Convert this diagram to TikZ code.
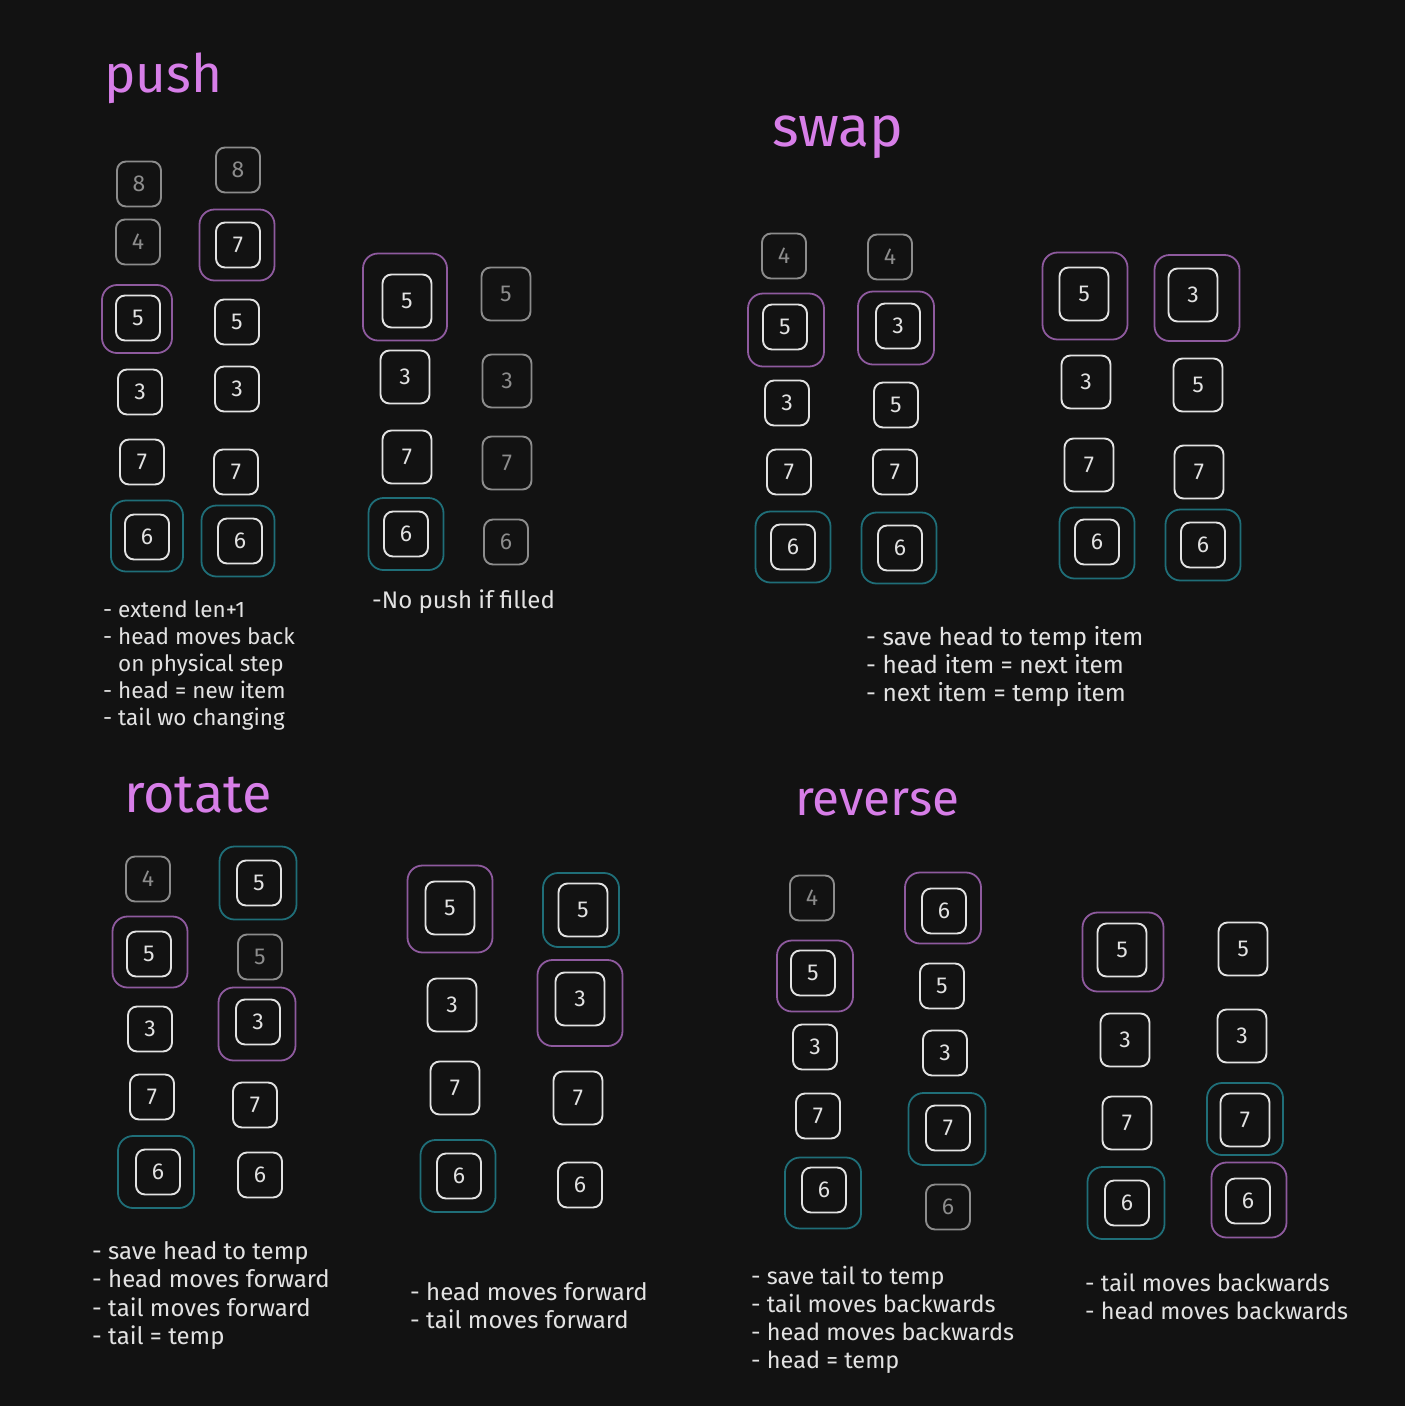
\documentclass[tikz,border=0pt]{standalone}
\usepackage{fontspec}
\setmainfont{Fira Sans}
\definecolor{bg}{HTML}{121212}
\definecolor{fg}{HTML}{E2E2E2}
\definecolor{gr}{HTML}{8C8C8C}
\definecolor{hdc}{HTML}{8E5A9E}
\definecolor{tlc}{HTML}{1F6E78}
\definecolor{ttl}{HTML}{D77EE8}
\tikzset{
  itm/.style={draw=fg, text=fg, line width=1.9, rounded corners=9, minimum width=44, minimum height=45, inner sep=0, font=\fontsize{23}{23}\selectfont},
  big/.style={minimum width=49, minimum height=53},
  old/.style={draw=gr, text=gr},
  hd/.style={draw=hdc, line width=1.8, rounded corners=15, inner sep=0, minimum width=#1},
  tl/.style={draw=tlc, line width=1.8, rounded corners=15, inner sep=0, minimum width=#1},
  title/.style={anchor=base west, inner sep=0, text=ttl, font=\fontsize{#1}{#1}\selectfont},
  note/.style={anchor=base west, inner sep=0, text=fg, font=\fontsize{#1}{27}\selectfont}
}
\begin{document}
\begin{tikzpicture}[x=1pt,y=-1pt]
\fill[bg] (0,0) rectangle (1405,1406);
\useasboundingbox (0,0) rectangle (1405,1406);

% ---------------- push ----------------
\node[title=53] (tpush) at (104,92) {push};
\node[hd=70, minimum height=68] (paH) at (137,319) {};
\node[tl=72, minimum height=71] (paT) at (147,536) {};
\node[itm,old] (pa1) at (139,184) {8};
\node[itm,old] (pa2) at (138,242) {4};
\node[itm] (pa3) at (138,318) {5};
\node[itm] (pa4) at (140,392) {3};
\node[itm] (pa5) at (142,462) {7};
\node[itm] (pa6) at (147,537) {6};

\node[hd=75, minimum height=71] (pbH) at (237,245) {};
\node[tl=73, minimum height=71] (pbT) at (238,541) {};
\node[itm,old] (pb1) at (238,170) {8};
\node[itm] (pb2) at (238,245) {7};
\node[itm] (pb3) at (237,322) {5};
\node[itm] (pb4) at (237,389) {3};
\node[itm] (pb5) at (236,472) {7};
\node[itm] (pb6) at (240,541) {6};

\node[hd=84, minimum height=87] (pcH) at (405,297) {};
\node[tl=75, minimum height=72] (pcT) at (406,534) {};
\node[itm,big] (pc1) at (407,301) {5};
\node[itm,big] (pc2) at (405,377) {3};
\node[itm,big] (pc3) at (407,457) {7};
\node[itm] (pc4) at (406,534) {6};

\node[itm,big,old] (pd1) at (506,294) {5};
\node[itm,big,old] (pd2) at (507,381) {3};
\node[itm,big,old] (pd3) at (507,463) {7};
\node[itm,old] (pd4) at (506,542) {6};

\node[note=22.5] (npush1) at (103,617) {\vtop{\baselineskip=27pt
  \hbox{- extend len+1}
  \hbox{- head moves back}
  \hbox{\phantom{- }on physical step}
  \hbox{- head = new item}
  \hbox{- tail wo changing}}};
\node[note=24] (npush2) at (372,608) {-No push if filled};

% ---------------- swap ----------------
\node[title=57] (tswap) at (772,146) {swap};
\node[hd=76, minimum height=73] (saH) at (786,330) {};
\node[tl=75, minimum height=71] (saT) at (793,547) {};
\node[itm,old] (sa1) at (784,256) {4};
\node[itm] (sa2) at (785,327) {5};
\node[itm] (sa3) at (787,403) {3};
\node[itm] (sa4) at (789,472) {7};
\node[itm] (sa5) at (793,547) {6};

\node[hd=76, minimum height=73] (sbH) at (896,328) {};
\node[tl=75, minimum height=71] (sbT) at (899,548) {};
\node[itm,old] (sb1) at (890,257) {4};
\node[itm] (sb2) at (898,326) {3};
\node[itm] (sb3) at (896,405) {5};
\node[itm] (sb4) at (895,472) {7};
\node[itm] (sb5) at (900,548) {6};

\node[hd=85, minimum height=87] (scH) at (1085,296) {};
\node[tl=75, minimum height=71] (scT) at (1097,543) {};
\node[itm,big] (sc1) at (1084,294) {5};
\node[itm,big] (sc2) at (1086,382) {3};
\node[itm,big] (sc3) at (1089,465) {7};
\node[itm] (sc4) at (1097,542) {6};

\node[hd=85, minimum height=86] (sdH) at (1197,298) {};
\node[tl=75, minimum height=71] (sdT) at (1203,545) {};
\node[itm,big] (sd1) at (1193,295) {3};
\node[itm,big] (sd2) at (1198,385) {5};
\node[itm,big] (sd3) at (1199,472) {7};
\node[itm] (sd4) at (1203,545) {6};

\node[note=24.5] (nswap) at (866,645) {\vtop{\baselineskip=28pt
  \hbox{- save head to temp item}
  \hbox{- head item = next item}
  \hbox{- next item = temp item}}};

% ---------------- rotate ----------------
\node[title=54] (trot) at (124,812) {rotate};
\node[hd=75, minimum height=71] (raH) at (150,952) {};
\node[tl=76, minimum height=72] (raT) at (156,1172) {};
\node[itm,old] (ra1) at (148,879) {4};
\node[itm] (ra2) at (149,954) {5};
\node[itm] (ra3) at (150,1029) {3};
\node[itm] (ra4) at (152,1097) {7};
\node[itm] (ra5) at (158,1172) {6};

\node[tl=77, minimum height=73] (rbT) at (258,883) {};
\node[hd=77, minimum height=73] (rbH) at (257,1024) {};
\node[itm] (rb1) at (259,883) {5};
\node[itm,old] (rb2) at (260,957) {5};
\node[itm] (rb3) at (258,1022) {3};
\node[itm] (rb4) at (255,1105) {7};
\node[itm] (rb5) at (260,1175) {6};

\node[hd=85, minimum height=87] (rcH) at (450,909) {};
\node[tl=75, minimum height=72] (rcT) at (458,1176) {};
\node[itm,big] (rc1) at (450,908) {5};
\node[itm,big] (rc2) at (452,1005) {3};
\node[itm,big] (rc3) at (455,1088) {7};
\node[itm] (rc4) at (459,1176) {6};

\node[tl=76, minimum height=74] (rdT) at (581,910) {};
\node[hd=85, minimum height=86] (rdH) at (580,1003) {};
\node[itm,big] (rd1) at (583,910) {5};
\node[itm,big] (rd2) at (580,999) {3};
\node[itm,big] (rd3) at (578,1098) {7};
\node[itm] (rd4) at (580,1185) {6};

\node[note=24] (nrot1) at (92,1259) {\vtop{\baselineskip=28.5pt
  \hbox{- save head to temp}
  \hbox{- head moves forward}
  \hbox{- tail moves forward}
  \hbox{- tail = temp}}};
\node[note=24] (nrot2) at (410,1300) {\vtop{\baselineskip=28pt
  \hbox{- head moves forward}
  \hbox{- tail moves forward}}};

% ---------------- reverse ----------------
\node[title=49.5] (trev) at (795,815) {reverse};
\node[hd=76, minimum height=71] (vaH) at (815,976) {};
\node[tl=76, minimum height=71] (vaT) at (823,1193) {};
\node[itm,old] (va1) at (812,898) {4};
\node[itm] (va2) at (813,973) {5};
\node[itm] (va3) at (815,1047) {3};
\node[itm] (va4) at (818,1116) {7};
\node[itm] (va5) at (824,1190) {6};

\node[hd=76, minimum height=71] (vbH) at (943,908) {};
\node[tl=77, minimum height=72] (vbT) at (947,1129) {};
\node[itm] (vb1) at (944,911) {6};
\node[itm] (vb2) at (942,986) {5};
\node[itm] (vb3) at (945,1053) {3};
\node[itm] (vb4) at (948,1128) {7};
\node[itm,old] (vb5) at (948,1207) {6};

\node[hd=81, minimum height=79] (vcH) at (1123,952) {};
\node[tl=77, minimum height=72] (vcT) at (1126,1203) {};
\node[itm,big] (vc1) at (1122,950) {5};
\node[itm,big] (vc2) at (1125,1040) {3};
\node[itm,big] (vc3) at (1127,1123) {7};
\node[itm] (vc4) at (1127,1203) {6};

\node[tl=76, minimum height=72] (vdT) at (1245,1119) {};
\node[hd=75, minimum height=75] (vdH) at (1249,1200) {};
\node[itm,big] (vd1) at (1243,949) {5};
\node[itm,big] (vd2) at (1242,1036) {3};
\node[itm,big] (vd3) at (1245,1120) {7};
\node[itm] (vd4) at (1248,1201) {6};

\node[note=23.5] (nrev1) at (751,1284) {\vtop{\baselineskip=28pt
  \hbox{- save tail to temp}
  \hbox{- tail moves backwards}
  \hbox{- head moves backwards}
  \hbox{- head = temp}}};
\node[note=23.5] (nrev2) at (1085,1291) {\vtop{\baselineskip=28pt
  \hbox{- tail moves backwards}
  \hbox{- head moves backwards}}};
\end{tikzpicture}
\end{document}
